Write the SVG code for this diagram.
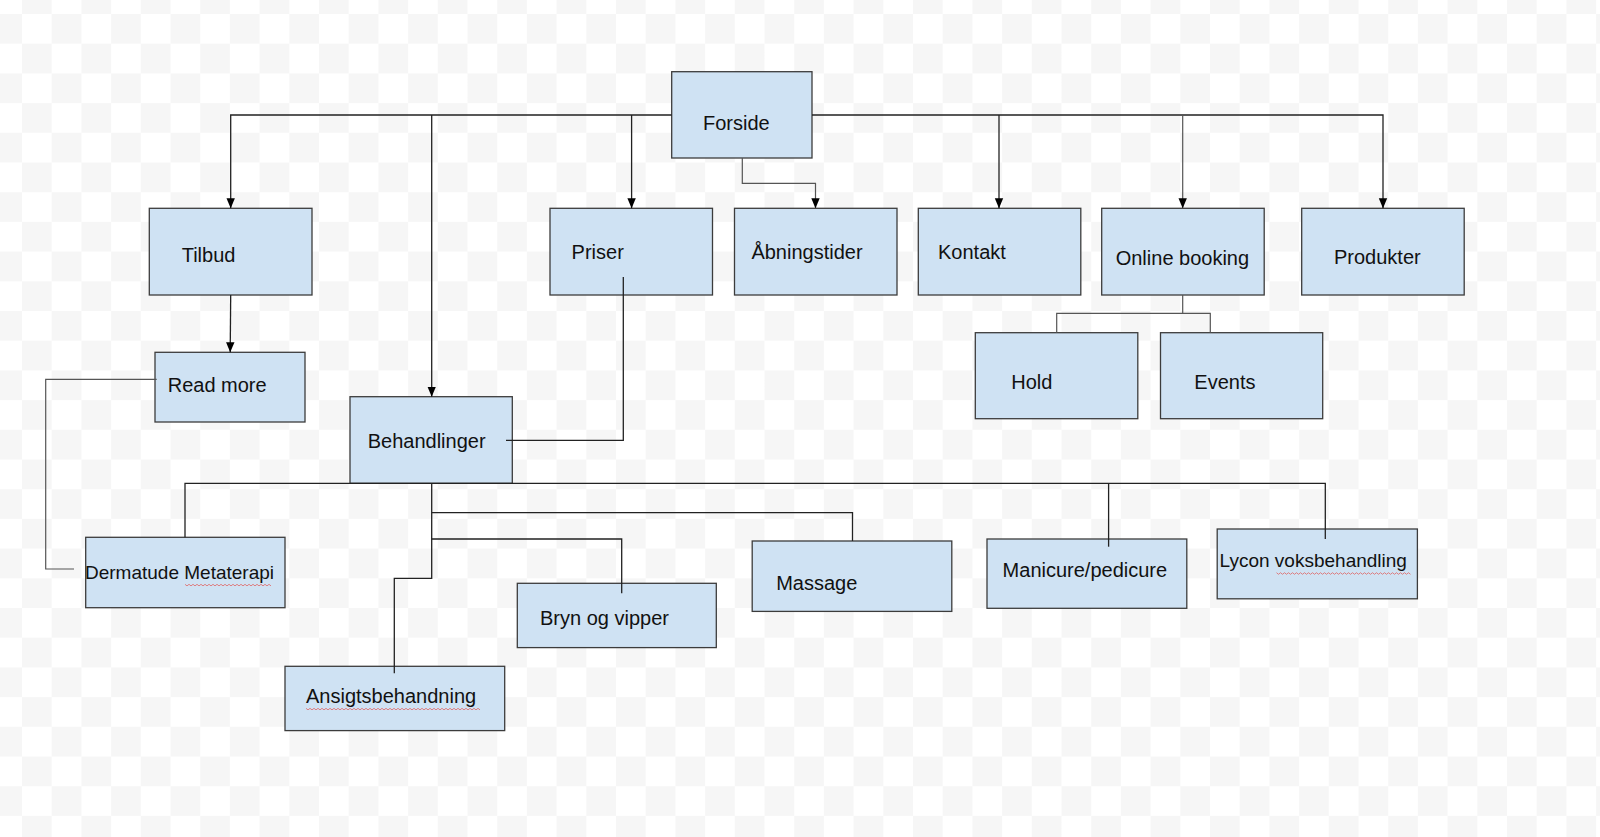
<svg xmlns="http://www.w3.org/2000/svg" width="1600" height="837" viewBox="0 0 1600 837">
<defs>
<pattern id="checker" patternUnits="userSpaceOnUse" x="-7.7" y="14" width="59.4" height="59.4">
<rect width="59.4" height="59.4" fill="#ffffff"/>
<rect x="0" y="0" width="29.7" height="29.7" fill="#f6f6f6"/>
<rect x="29.7" y="29.7" width="29.7" height="29.7" fill="#f6f6f6"/>
</pattern>
<marker id="arrow" markerWidth="10" markerHeight="10" viewBox="0 0 10 10" refX="10" refY="5" orient="auto" markerUnits="userSpaceOnUse">
<path d="M0,0.8 L10,5 L0,9.2 Z" fill="#000"/>
</marker>
<style>
.box{fill:#cfe2f3;stroke:#3c3c3c;stroke-width:1.3}
.lbl{font-family:"Liberation Sans",Arial,sans-serif;font-size:20px;fill:#111}
.sm{font-size:19px}
.ln{fill:none;stroke:#222;stroke-width:1.3}
.lg{fill:none;stroke:#555;stroke-width:1.2}
.sq{fill:none;stroke:#e06666;stroke-width:0.8}
</style>
</defs>
<rect width="1600" height="837" fill="url(#checker)"/>

<g id="nodes">
<g id="forside"><rect class="box" x="671.7" y="71.7" width="140.3" height="86.3"/><text class="lbl" x="703" y="130">Forside</text></g>
<g id="tilbud"><rect class="box" x="149.3" y="208.3" width="162.7" height="86.7"/><text class="lbl" x="181.7" y="262.3">Tilbud</text></g>
<g id="priser"><rect class="box" x="550" y="208.3" width="162.5" height="86.7"/><text class="lbl" x="571.6" y="259">Priser</text></g>
<g id="abningstider"><rect class="box" x="734.5" y="208.3" width="162.5" height="86.7"/><text class="lbl" x="751.4" y="259">Åbningstider</text></g>
<g id="kontakt"><rect class="box" x="918.3" y="208.3" width="162.5" height="86.7"/><text class="lbl" x="938" y="259">Kontakt</text></g>
<g id="online-booking"><rect class="box" x="1101.7" y="208.3" width="162.5" height="86.7"/><text class="lbl" x="1115.7" y="265">Online booking</text></g>
<g id="produkter"><rect class="box" x="1301.7" y="208.3" width="162.5" height="86.7"/><text class="lbl" x="1334" y="264">Produkter</text></g>
<g id="read-more"><rect class="box" x="155" y="352.3" width="150" height="69.7"/><text class="lbl" x="167.7" y="392.3">Read more</text></g>
<g id="behandlinger"><rect class="box" x="350" y="396.7" width="162.3" height="86.6"/><text class="lbl" x="367.7" y="448.3">Behandlinger</text></g>
<g id="hold"><rect class="box" x="975.3" y="332.7" width="162.5" height="86"/><text class="lbl" x="1011.2" y="389.3">Hold</text></g>
<g id="events"><rect class="box" x="1160.5" y="332.7" width="162.2" height="86"/><text class="lbl" x="1194.3" y="389.3">Events</text></g>
<g id="dermatude"><rect class="box" x="85.7" y="537.3" width="199.3" height="70.4"/><text class="lbl sm" x="85" y="579">Dermatude Metaterapi</text>
<path class="sq" d="M185,584.3 l2,1.6 l2,-1.6 l2,1.6 l2,-1.6 l2,1.6 l2,-1.6 l2,1.6 l2,-1.6 l2,1.6 l2,-1.6 l2,1.6 l2,-1.6 l2,1.6 l2,-1.6 l2,1.6 l2,-1.6 l2,1.6 l2,-1.6 l2,1.6 l2,-1.6 l2,1.6 l2,-1.6 l2,1.6 l2,-1.6 l2,1.6 l2,-1.6 l2,1.6 l2,-1.6 l2,1.6 l2,-1.6 l2,1.6 l2,-1.6 l2,1.6 l2,-1.6 l2,1.6 l2,-1.6 l2,1.6 l2,-1.6 l2,1.6 l2,-1.6 l2,1.6 l2,-1.6 l2,1.6"/></g>
<g id="ansigtsbehandning"><rect class="box" x="285" y="666.3" width="219.7" height="64.3"/><text class="lbl" x="306" y="703.3">Ansigtsbehandning</text>
<path class="sq" d="M306,708.3 l2,1.6 l2,-1.6 l2,1.6 l2,-1.6 l2,1.6 l2,-1.6 l2,1.6 l2,-1.6 l2,1.6 l2,-1.6 l2,1.6 l2,-1.6 l2,1.6 l2,-1.6 l2,1.6 l2,-1.6 l2,1.6 l2,-1.6 l2,1.6 l2,-1.6 l2,1.6 l2,-1.6 l2,1.6 l2,-1.6 l2,1.6 l2,-1.6 l2,1.6 l2,-1.6 l2,1.6 l2,-1.6 l2,1.6 l2,-1.6 l2,1.6 l2,-1.6 l2,1.6 l2,-1.6 l2,1.6 l2,-1.6 l2,1.6 l2,-1.6 l2,1.6 l2,-1.6 l2,1.6 l2,-1.6 l2,1.6 l2,-1.6 l2,1.6 l2,-1.6 l2,1.6 l2,-1.6 l2,1.6 l2,-1.6 l2,1.6 l2,-1.6 l2,1.6 l2,-1.6 l2,1.6 l2,-1.6 l2,1.6 l2,-1.6 l2,1.6 l2,-1.6 l2,1.6 l2,-1.6 l2,1.6 l2,-1.6 l2,1.6 l2,-1.6 l2,1.6 l2,-1.6 l2,1.6 l2,-1.6 l2,1.6 l2,-1.6 l2,1.6 l2,-1.6 l2,1.6 l2,-1.6 l2,1.6 l2,-1.6 l2,1.6 l2,-1.6 l2,1.6 l2,-1.6 l2,1.6 l2,-1.6 l2,1.6"/></g>
<g id="bryn-og-vipper"><rect class="box" x="517.3" y="583.3" width="199" height="64.3"/><text class="lbl" x="540" y="625">Bryn og vipper</text></g>
<g id="massage"><rect class="box" x="752.2" y="541" width="199.6" height="70.4"/><text class="lbl" x="776.2" y="590">Massage</text></g>
<g id="manicure-pedicure"><rect class="box" x="987" y="539" width="199.8" height="69.3"/><text class="lbl" x="1002.6" y="577.3">Manicure/pedicure</text></g>
<g id="lycon"><rect class="box" x="1217.2" y="529" width="200.2" height="69.8"/><text class="lbl sm" x="1219.6" y="567.3">Lycon voksbehandling</text>
<path class="sq" d="M1276.5,572.7 l2,1.6 l2,-1.6 l2,1.6 l2,-1.6 l2,1.6 l2,-1.6 l2,1.6 l2,-1.6 l2,1.6 l2,-1.6 l2,1.6 l2,-1.6 l2,1.6 l2,-1.6 l2,1.6 l2,-1.6 l2,1.6 l2,-1.6 l2,1.6 l2,-1.6 l2,1.6 l2,-1.6 l2,1.6 l2,-1.6 l2,1.6 l2,-1.6 l2,1.6 l2,-1.6 l2,1.6 l2,-1.6 l2,1.6 l2,-1.6 l2,1.6 l2,-1.6 l2,1.6 l2,-1.6 l2,1.6 l2,-1.6 l2,1.6 l2,-1.6 l2,1.6 l2,-1.6 l2,1.6 l2,-1.6 l2,1.6 l2,-1.6 l2,1.6 l2,-1.6 l2,1.6 l2,-1.6 l2,1.6 l2,-1.6 l2,1.6 l2,-1.6 l2,1.6 l2,-1.6 l2,1.6 l2,-1.6 l2,1.6 l2,-1.6 l2,1.6 l2,-1.6 l2,1.6 l2,-1.6 l2,1.6 l2,-1.6 l2,1.6"/></g>
</g>

<g id="connectors">
<path class="ln" d="M671.7,115 H230.7 V208.3" marker-end="url(#arrow)"/>
<path class="ln" d="M431.7,115 V396.7" marker-end="url(#arrow)"/>
<path class="ln" d="M631.6,115 V208.3" marker-end="url(#arrow)"/>
<path class="ln" d="M812,115 H1383 V208.3" marker-end="url(#arrow)"/>
<path class="ln" d="M999,115 V208.3" marker-end="url(#arrow)"/>
<path class="lg" d="M1182.7,115 V208.3" marker-end="url(#arrow)"/>
<path class="lg" d="M742.3,158 V183.3 H815.5 V208.3" marker-end="url(#arrow)"/>
<path class="ln" d="M230.7,295 L230.2,352.3" marker-end="url(#arrow)"/>
<path class="lg" d="M156.7,379.3 H45.7 V569 H74"/>
<path class="ln" d="M623.3,277 V440.3 H506"/>
<path class="lg" d="M1182.7,295 V313.3 M1056.7,332.7 V313.3 H1210.3 V332.7"/>
<path class="ln" d="M185,537.3 V483.3 H1325.3 V539"/>
<path class="ln" d="M1108.6,483.3 V546.7"/>
<path class="ln" d="M431.7,483.3 V578.3 H394.3 V673.3"/>
<path class="ln" d="M431.7,512.7 H852.5 V541"/>
<path class="ln" d="M431.7,539 H621.7 V593.3"/>
</g>
</svg>
